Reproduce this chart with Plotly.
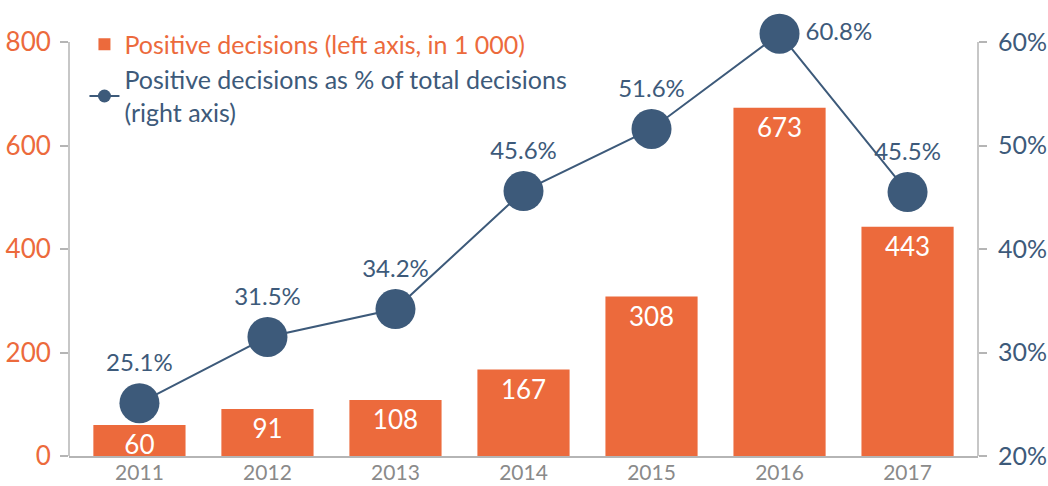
import plotly.graph_objects as go

years = ["2011", "2012", "2013", "2014", "2015", "2016", "2017"]
positive_k = [60, 91, 108, 167, 308, 673, 443]
share_pct = [25.1, 31.5, 34.2, 45.6, 51.6, 60.8, 45.5]
left_ticks = [0, 200, 400, 600, 800]
right_ticks = [20, 30, 40, 50, 60]

ORANGE = "#EC6A3C"
BLUE = "#3D5A7A"
GREY = "#B5B5B5"
FONT = "Lato, 'Open Sans', sans-serif"

# axis extents (headroom above the top tick so the 2016 point is not clipped)
LEFT_MAX, RIGHT_MIN, RIGHT_MAX = 800, 20, 60
HEAD = 1.029
left_range = [0, LEFT_MAX * HEAD]
right_range = [RIGHT_MIN, RIGHT_MIN + (RIGHT_MAX - RIGHT_MIN) * HEAD]

fig = go.Figure()

fig.add_trace(go.Bar(
    x=years, y=positive_k,
    marker=dict(color=ORANGE, line=dict(width=0)),
    text=[str(v) for v in positive_k],
    textposition="inside", insidetextanchor="end", textangle=0,
    textfont=dict(color="white", size=26, family=FONT),
    constraintext="none",
    name="<span style='color:" + ORANGE + "'>Positive decisions (left axis, in 1 000)</span>",
    showlegend=True,
    yaxis="y2",
))

label_pos = ["top center"] * len(years)
label_pos[5] = "middle right"

fig.add_trace(go.Scatter(
    x=years, y=share_pct,
    mode="lines+markers+text",
    line=dict(color=BLUE, width=2),
    marker=dict(color=BLUE, size=40),
    text=["%.1f%%" % v for v in share_pct],
    textposition=label_pos,
    textfont=dict(color=BLUE, size=24, family=FONT),
    cliponaxis=False,
    showlegend=False,
    yaxis="y",
))

# legend entry for the line series
fig.add_trace(go.Scatter(
    x=[None], y=[None],
    mode="lines+markers",
    line=dict(color=BLUE, width=2),
    marker=dict(color=BLUE, size=13),
    name="<span style='color:" + BLUE + "'>Positive decisions as % of total decisions<br>(right axis)</span>",
    yaxis="y",
))

fig.update_layout(
    width=1048, height=486,
    margin=dict(l=69, r=70, t=30, b=30, autoexpand=False),
    paper_bgcolor="white", plot_bgcolor="white",
    font=dict(family=FONT),
    bargap=0.28,
    xaxis=dict(
        showgrid=False, showline=True, linecolor=GREY, linewidth=1.5,
        ticks="", ticklabelstandoff=-3,
        tickfont=dict(color="#8A8A8A", size=21, family=FONT),
    ),
    yaxis=dict(
        range=right_range, tickvals=right_ticks, ticktext=["%d%%" % v for v in right_ticks],
        side="right", showgrid=False, zeroline=False, showline=False,
        ticks="outside", ticklen=8, tickcolor=GREY, tickwidth=1.5,
        ticklabelstandoff=6,
        tickfont=dict(color=BLUE, size=25, family=FONT),
    ),
    yaxis2=dict(
        range=left_range, tickvals=left_ticks, overlaying="y", side="left",
        showgrid=False, zeroline=False, showline=False,
        ticks="outside", ticklen=8, tickcolor=GREY, tickwidth=1.5,
        ticklabelstandoff=4,
        tickfont=dict(color=ORANGE, size=26, family=FONT),
    ),
    legend=dict(
        x=0.017, y=1.02, xanchor="left", yanchor="top",
        bgcolor="rgba(0,0,0,0)", font=dict(size=25, family=FONT),
        tracegroupgap=0, itemsizing="trace",
    ),
    shapes=[
        dict(type="line", xref="paper", x0=0, x1=0, yref="y2", y0=0, y1=LEFT_MAX,
             line=dict(color=GREY, width=1.5), layer="above"),
        dict(type="line", xref="paper", x0=1, x1=1, yref="y", y0=RIGHT_MIN, y1=RIGHT_MAX,
             line=dict(color=GREY, width=1.5), layer="above"),
    ],
)

fig.write_html("out.html", config={"displayModeBar": False},
               post_script="document.body.style.margin='0';")
